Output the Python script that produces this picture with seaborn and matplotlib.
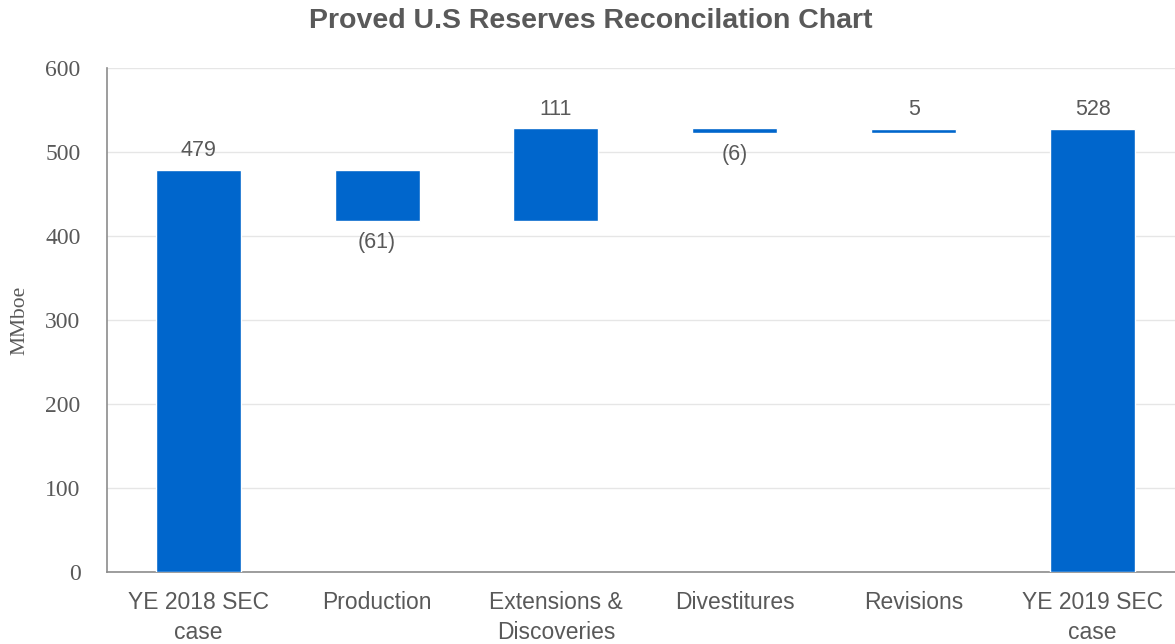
import numpy as np
import pandas as pd
import matplotlib
matplotlib.use("Agg")
import matplotlib.pyplot as plt
import seaborn as sns

# === Data ===
categories = ["YE 2018 SEC\ncase", "Production", "Extensions &\nDiscoveries",
              "Divestitures", "Revisions", "YE 2019 SEC\ncase"]
changes = [479, -61, 111, -6, 5, 528]
is_total = [True, False, False, False, False, True]
value_labels = ["479", "(61)", "111", "(6)", "5", "528"]

# waterfall bottoms / heights from the running total
bottoms, heights = [], []
running = 0
for v, tot in zip(changes, is_total):
    if tot:
        bottoms.append(0)
        heights.append(v)
        running = v
    else:
        lo = min(running, running + v)
        bottoms.append(lo)
        heights.append(abs(v))
        running += v

df = pd.DataFrame({"Category": categories, "Height": heights})

sns.set_style("white")
grey = "#595959"

fig = plt.figure(figsize=(11.75, 6.44), dpi=100)
ax = fig.add_axes([0.091, 0.112, 0.909, 0.782])

sns.barplot(data=df, x="Category", y="Height", color="#0066CC", saturation=1,
            width=0.475, bottom=bottoms, ax=ax, zorder=3)

# value labels: above for increases/totals, below for decreases
for i, (v, lab) in enumerate(zip(changes, value_labels)):
    top = bottoms[i] + heights[i]
    if v < 0:
        ax.annotate(lab, (i, bottoms[i]), xytext=(0, -8), textcoords="offset points",
                    ha="center", va="top", fontsize=15.5, color=grey,
                    fontfamily="Liberation Sans")
    else:
        ax.annotate(lab, (i, top), xytext=(0, 6), textcoords="offset points",
                    ha="center", va="bottom", fontsize=15.5, color=grey,
                    fontfamily="Liberation Sans")

ax.set_ylim(0, 600)
ax.set_xlim(-0.51, 5.46)
ax.set_yticks(range(0, 601, 100))
ax.grid(axis="y", color="#E6E6E6", linewidth=1, zorder=0)
ax.set_axisbelow(True)

for s in ["top", "right"]:
    ax.spines[s].set_visible(False)
for s in ["left", "bottom"]:
    ax.spines[s].set_color("#8C8C8C")
    ax.spines[s].set_linewidth(1.2)

ax.tick_params(axis="both", direction="out", length=7, color="#8C8C8C", width=1.2)
ax.tick_params(axis="x", labelsize=16.5, labelcolor=grey, pad=7)
for t in ax.get_yticklabels():
    t.set_fontfamily("Liberation Serif")
    t.set_fontsize(17)
    t.set_color(grey)
ax.tick_params(axis="y", pad=12)
for t in ax.get_xticklabels():
    t.set_fontfamily("Liberation Sans")
    t.set_linespacing(1.35)

ax.set_xlabel("")
ax.set_ylabel("MMboe", fontfamily="Liberation Serif", fontsize=15.5, color=grey, labelpad=11)
fig.text(0.503, 0.967, "Proved U.S Reserves Reconcilation Chart", fontsize=20.5,
         fontweight="bold", color=grey, fontfamily="Liberation Sans",
         ha="center", va="center")

plt.savefig("out.png", dpi=100)
